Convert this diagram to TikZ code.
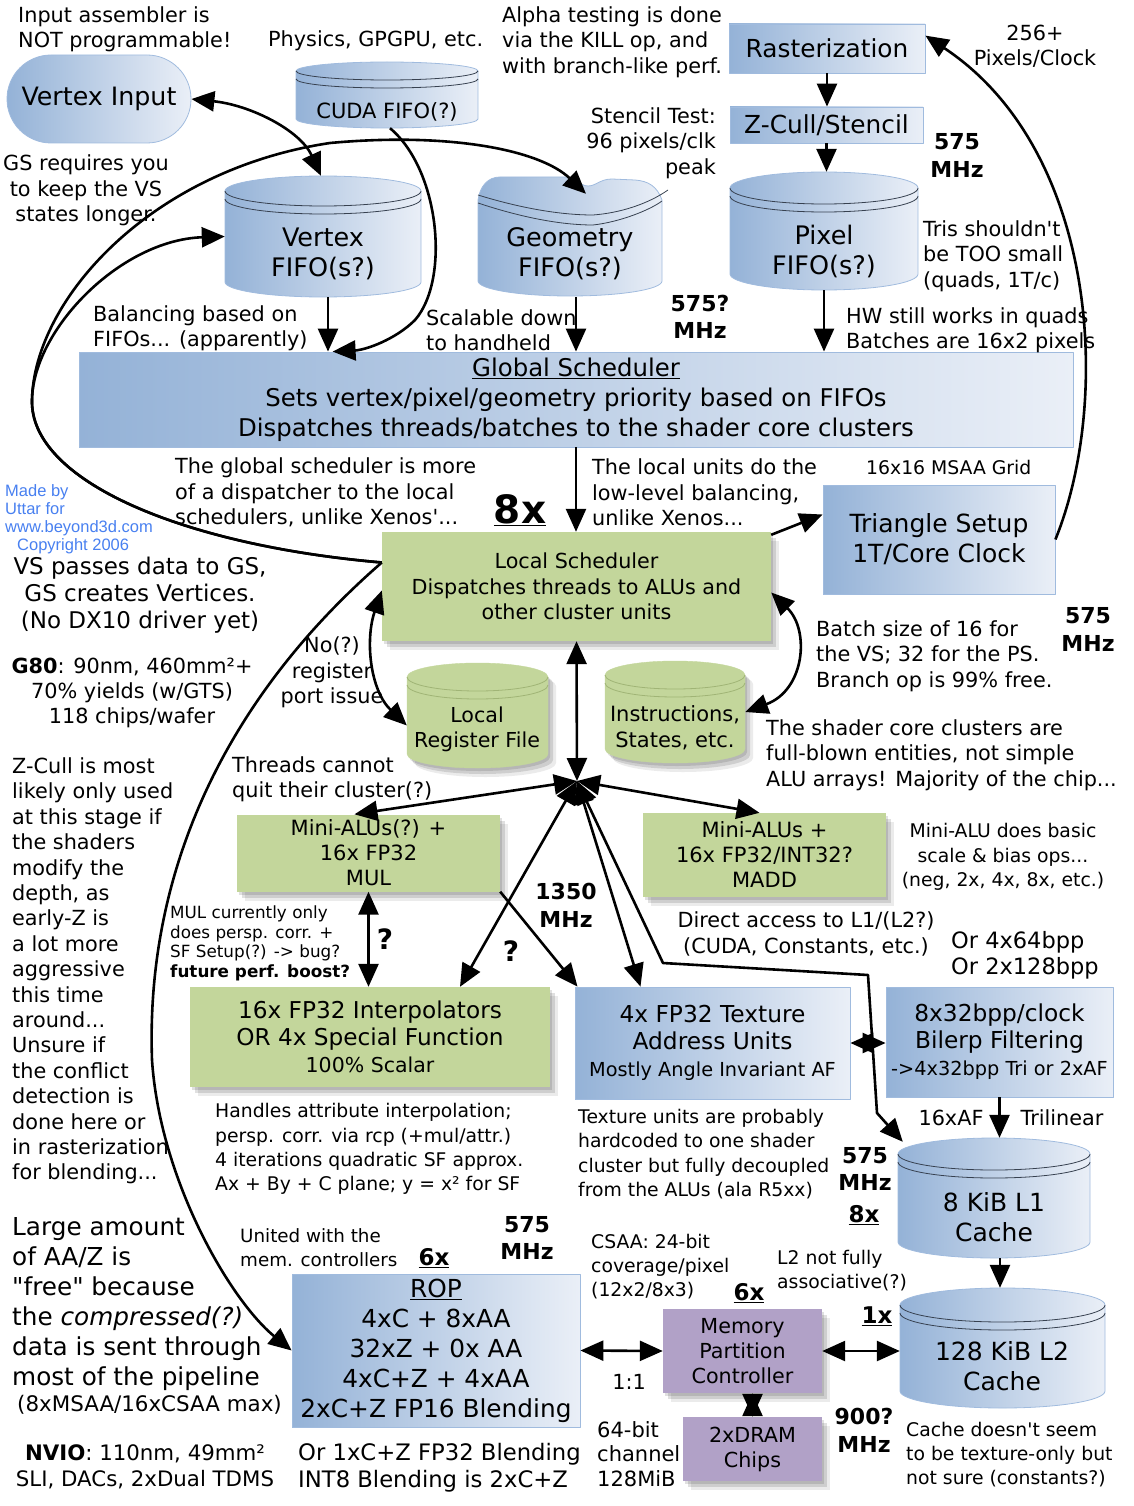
\documentclass[tikz,border=0pt]{standalone}
\usepackage{fontspec}
\setmainfont{DejaVu Sans}[Ligatures=TeXOff]
\newfontfamily\webfont{Liberation Sans}
\usetikzlibrary{arrows.meta,shapes.misc,shadows}

\definecolor{steelblue}{RGB}{148,178,215}
\definecolor{paleblue}{RGB}{234,239,247}
\definecolor{blueedge}{RGB}{160,187,222}
\definecolor{rimgray}{RGB}{55,65,80}
\definecolor{cellgreen}{RGB}{195,214,155}
\definecolor{greenrim}{RGB}{160,180,118}
\definecolor{cellpurple}{RGB}{177,161,199}
\definecolor{webblue}{RGB}{72,128,240}

% cylinder: name, left, top, right, bottom, rim radius, style
\newcommand{\fifo}[7]{%
  \path[#7] (#2,#3+#6) -- (#2,#5-#6)
    arc[start angle=180,end angle=0,x radius=(#4-#2)/2,y radius=#6]
    -- (#4,#3+#6)
    arc[start angle=360,end angle=180,x radius=(#4-#2)/2,y radius=#6] -- cycle;
  \draw[#7 rim] (#2,#3+#6) arc[start angle=180,end angle=0,x radius=(#4-#2)/2,y radius=#6];
  \draw[#7 rim] (#2,#3+#6+8) arc[start angle=180,end angle=0,x radius=(#4-#2)/2,y radius=#6];
  \node (#1) [inner sep=0pt, minimum width=#4-#2, minimum height=#5-#3] at ({(#2+#4)/2},{(#3+#5)/2}) {};}

\begin{document}
\begin{tikzpicture}[x=1pt, y=-1pt, line join=round,
    arr/.style={line width=2.6pt, -{Triangle[length=23pt,width=20pt]}},
    darr/.style={line width=2.6pt, {Triangle[length=23pt,width=20pt]}-{Triangle[length=23pt,width=20pt]}},
    softshadow/.style={drop shadow={shadow xshift=2pt,shadow yshift=-3pt,fill=black,opacity=.12},
      drop shadow={shadow xshift=5pt,shadow yshift=-6pt,fill=black,opacity=.12},
      drop shadow={shadow xshift=8pt,shadow yshift=-9pt,fill=black,opacity=.08}},
    box/.style={rectangle, inner sep=0pt, align=center},
    bluebox/.style={box, draw=blueedge, line width=0.8pt, left color=steelblue, right color=paleblue},
    greenbox/.style={box, fill=cellgreen, softshadow},
    purplebox/.style={box, fill=cellpurple, softshadow},
    bluecyl/.style={draw=blueedge, line width=0.8pt, left color=steelblue, right color=paleblue},
    bluecyl rim/.style={draw=rimgray, line width=0.8pt},
    greencyl/.style={draw=cellgreen, fill=cellgreen, softshadow},
    greencyl rim/.style={draw=greenrim, line width=0.8pt},
    lbl/.style={inner sep=0pt, align=center, font=\fontsize{25.5}{30}\selectfont},
    note/.style={inner sep=0pt, align=left, font=\fontsize{20.8}{25.4}\selectfont},
    snote/.style={inner sep=0pt, align=left, font=\fontsize{18.8}{24.4}\selectfont},
    tnote/.style={inner sep=0pt, align=left, font=\fontsize{16.8}{19.7}\selectfont},
    mhz/.style={inner sep=0pt, align=center, font=\bfseries\fontsize{22}{27.5}\selectfont},
    count/.style={inner sep=0pt, font=\bfseries\fontsize{23}{27}\selectfont}]
  \useasboundingbox (0,0) rectangle (1134,1506);

  % front end
  \node (vin) [bluebox, rounded rectangle, minimum width=184, minimum height=88,
    font=\fontsize{25.3}{30}\selectfont] at (99,99) {Vertex Input};
  \fifo{cuda}{296}{62}{478}{128}{9}{bluecyl}
  \node (cudalbl) [lbl, font=\fontsize{21}{26}\selectfont] at (387,112) {CUDA FIFO(?)};
  \fifo{vfifo}{225}{176}{421}{297}{15}{bluecyl}
  \node (vfifolbl) [lbl] at (323,254) {Vertex\\FIFO(s?)};
  % geometry fifo, dented lid
  \path[bluecyl] (478,200) -- (478,281)
    arc[start angle=180,end angle=0,x radius=92,y radius=15] -- (662,200)
    .. controls (657,186) and (648,181) .. (635,180) -- (612,179)
    .. controls (600,179) and (596,186) .. (588,186)
    .. controls (580,186) and (575,177) .. (565,177) -- (500,177)
    .. controls (488,177) and (480,186) .. (478,200) -- cycle;
  \draw[bluecyl rim] (478,195) .. controls (520,208) and (560,215) .. (593,215)
    .. controls (620,213) and (648,204) .. (668,190);
  \draw[bluecyl rim] (478,203) .. controls (520,217) and (560,225) .. (593,225)
    .. controls (620,222) and (650,210) .. (662,201);
  \node (gfifo) [inner sep=0pt, minimum width=184, minimum height=120] at (570,237) {};
  \node (gfifolbl) [lbl] at (570,254) {Geometry\\FIFO(s?)};
  \node (raster) [bluebox, minimum width=196, minimum height=49,
    font=\fontsize{24.8}{30}\selectfont] at (827,48.5) {Rasterization};
  \node (zcull) [bluebox, minimum width=193, minimum height=36,
    font=\fontsize{24.8}{30}\selectfont] at (826.5,125) {Z-Cull/Stencil};
  \fifo{pfifo}{730}{172}{918}{290}{16}{bluecyl}
  \node (pfifolbl) [lbl] at (824,251) {Pixel\\FIFO(s?)};

  % schedulers
  \node (global) [bluebox, minimum width=994, minimum height=95,
    font=\fontsize{24.4}{30}\selectfont] at (576,399.5)
    {\underline{Global Scheduler}\\Sets vertex/pixel/geometry priority based on FIFOs\\Dispatches threads/batches to the shader core clusters};
  \node (trisetup) [bluebox, minimum width=232, minimum height=109,
    font=\fontsize{25}{30}\selectfont] at (939,539.5) {Triangle Setup\\1T/Core Clock};
  \node (lsched) [greenbox, minimum width=389, minimum height=109,
    font=\fontsize{20.7}{25.5}\selectfont] at (576.5,586.5)
    {Local Scheduler\\Dispatches threads to ALUs and\\other cluster units};
  \fifo{lrf}{407}{663}{548}{768}{14}{greencyl}
  \node (lrflbl) [lbl, font=\fontsize{20.6}{25}\selectfont] at (477,729.5) {Local\\Register File};
  \fifo{instr}{605}{661}{745}{763}{14}{greencyl}
  \node (instrlbl) [lbl, font=\fontsize{21}{26}\selectfont] at (675,728) {Instructions,\\States, etc.};

  % cluster units
  \coordinate (hub) at (577,781);
  \node (mul) [greenbox, minimum width=263, minimum height=77,
    font=\fontsize{21}{25}\selectfont] at (368.5,853) {Mini-ALUs(?) +\\16x FP32\\MUL};
  \node (madd) [greenbox, minimum width=243, minimum height=84,
    font=\fontsize{21}{25}\selectfont] at (764.5,855) {Mini-ALUs +\\16x FP32/INT32?\\MADD};
  \node (interp) [greenbox, minimum width=360, minimum height=100,
    font=\fontsize{23.2}{27}\selectfont] at (370,1037)
    {16x FP32 Interpolators\\OR 4x Special Function\\{\fontsize{20.5}{25}\selectfont 100\% Scalar}};
  \node (texaddr) [bluebox, minimum width=275, minimum height=112,
    font=\fontsize{23.3}{27}\selectfont] at (712.5,1043)
    {4x FP32 Texture\\Address Units\\{\fontsize{19.3}{25}\selectfont Mostly Angle Invariant AF}};
  \node (bilerp) [bluebox, minimum width=227, minimum height=110,
    font=\fontsize{23.3}{27}\selectfont] at (999.5,1042)
    {8x32bpp/clock\\Bilerp Filtering\\{\fontsize{19.3}{25}\selectfont ->4x32bpp Tri or 2xAF}};
  \fifo{l1}{898}{1138}{1090}{1258}{16}{bluecyl}
  \node (l1lbl) [lbl, font=\fontsize{25}{30}\selectfont] at (994,1217) {8 KiB L1\\Cache};

  % back end
  \node (rop) [bluebox, minimum width=288, minimum height=153,
    font=\fontsize{24.8}{30}\selectfont] at (436,1350.5)
    {\underline{ROP}\\4xC + 8xAA\\32xZ + 0x AA\\4xC+Z + 4xAA\\2xC+Z FP16 Blending};
  \node (mpc) [purplebox, minimum width=159, minimum height=84,
    font=\fontsize{20.7}{25}\selectfont] at (742.5,1351) {Memory\\Partition\\Controller};
  \node (dram) [purplebox, minimum width=139, minimum height=64,
    font=\fontsize{20.7}{25}\selectfont] at (752.5,1449) {2xDRAM\\Chips};
  \fifo{l2}{900}{1288}{1105}{1408}{17}{bluecyl}
  \node (l2lbl) [lbl, font=\fontsize{25}{30}\selectfont] at (1002,1366) {128 KiB L2\\Cache};

  % connectors
  \draw[darr] (vin.east) .. controls (250,105) and (300,130) .. ([xshift=-2pt]vfifo.north);
  \draw[arr] ([yshift=24pt]lsched.west) .. controls (180,545) and (30,480) .. (32,400)
    .. controls (34,300) and (150,170) .. (330,143)
    .. controls (450,132) and (540,150) .. ([xshift=16pt,yshift=-17pt]gfifo.north);
  \draw[arr] ([yshift=24pt]lsched.west) .. controls (180,545) and (30,480) .. (32,400)
    .. controls (33,330) and (120,240) .. (vfifo.west);
  \draw[arr] ([yshift=24pt]lsched.west) .. controls (235,690) and (145,860) .. (152,1060)
    .. controls (160,1180) and (230,1300) .. (rop.west);
  \draw[arr] ([xshift=3pt]cuda.south) .. controls (440,170) and (450,280) .. (415,320)
    .. controls (395,340) and (365,350) .. ([xshift=254pt]global.north west);
  \draw[arr] (raster.south) -- (raster.south |- zcull.north);
  \draw[arr] (zcull.south) -- (zcull.south |- pfifo.north);
  \draw[arr] ([xshift=5pt]vfifo.south) -- ([xshift=5pt]vfifo.south |- global.north);
  \draw[arr] ([xshift=6pt]gfifo.south) -- ([xshift=6pt]gfifo.south |- global.north);
  \draw[arr] (pfifo.south) -- (pfifo.south |- global.north);
  \draw[arr] (global.south) -- (global.south |- lsched.north);
  \draw[arr] ([yshift=-3pt]lsched.north east) -- ([yshift=25pt]trisetup.west);
  \draw[arr] (trisetup.east) .. controls (1112,400) and (1098,150) .. ([yshift=-12pt]raster.north east);
  \draw[darr] ([yshift=-4pt]lsched.west) .. controls (365,640) and (370,690) .. ([yshift=-10pt]lrf.west);
  \draw[darr] ([yshift=-6pt]lsched.east) .. controls (810,630) and (805,690) .. (instr.east);
  \draw[darr] (lsched.south) -- (hub);
  \draw[darr] (hub) -- ([xshift=-14pt]mul.north);
  \draw[darr] (hub) -- ([xshift=-5pt]madd.north);
  \draw[darr] (hub) -- ([xshift=90pt]interp.north);
  \draw[darr] (hub) -- ([xshift=-72pt]texaddr.north);
  \draw[arr] (mul.south east) -- ([xshift=-135pt]texaddr.north);
  \draw[darr] (mul.south) -- (mul.south |- interp.north);
  \draw[darr] (hub) -- (663,963) -- (868,975) -- (877,1113) -- ([xshift=5pt,yshift=-4pt]l1.north west);
  \draw[darr] (texaddr.east) -- (texaddr.east -| bilerp.west);
  \draw[arr] (bilerp.south) -- (bilerp.south |- l1.north);
  \draw[arr] ([xshift=6pt]l1.south) -- ([xshift=6pt]l1.south |- l2.north);
  \draw[darr] (rop.east) -- (mpc.west);
  \draw[darr] (mpc.east) -- (mpc.east -| l2.west);
  \draw[darr] (dram.north |- mpc.south) -- (dram.north);

  % notes
  \node (inasm) [note, anchor=west] at (18,29) {Input assembler is\\NOT programmable!};
  \node (physics) [note, anchor=west] at (268,41) {Physics, GPGPU, etc.};
  \node (alpha) [note, anchor=west] at (502,42) {Alpha testing is done\\via the KILL op, and\\with branch-like perf.};
  \node (pixclk) [note, align=center] at (1035,46) {256+\\Pixels/Clock};
  \node (stencil) [note, align=right, anchor=east] at (716,143) {Stencil Test:\\96 pixels/clk\\peak};
  \node (mhzrast) [mhz] at (957,155.5) {575\\MHz};
  \node (tris) [note, anchor=west] at (923,256) {Tris shouldn't\\be TOO small\\(quads, 1T/c)};
  \node (gsnote) [note, align=center] at (86,190.5) {GS requires you\\to keep the VS\\states longer.};
  \node (balance) [note, anchor=west] at (93,328) {Balancing based on\\FIFOs... (apparently)};
  \node (scalable) [note, anchor=west] at (426,330) {Scalable down\\to handheld};
  \node (mhzglob) [mhz] at (700,317) {575?\\MHz};
  \node (hwquads) [note, anchor=west] at (846,330.5) {HW still works in quads\\Batches are 16x2 pixels};
  \node (globnote) [note, anchor=west] at (175,492.5) {The global scheduler is more\\of a dispatcher to the local\\schedulers, unlike Xenos'...};
  \node (localnote) [note, anchor=west] at (592,492.5) {The local units do the\\low-level balancing,\\unlike Xenos...};
  \node (msaagrid) [snote, anchor=west] at (866,467) {16x16 MSAA Grid};
  \node (eightx) [inner sep=0pt, font=\bfseries\fontsize{39}{44}\selectfont] at (520,510) {\underline{8x}};
  \node (madeby) [inner sep=0pt, align=left, text=webblue, font=\webfont\fontsize{16.5}{18}\selectfont, anchor=west] at (5,519)
    {Made by\\Uttar for\\www.beyond3d.com\\\hspace*{12pt}Copyright 2006};
  \node (vsgs) [note, align=center, font=\fontsize{23}{27}\selectfont] at (140,595) {VS passes data to GS,\\GS creates Vertices.\\(No DX10 driver yet)};
  \node (batch) [note, anchor=west] at (816,656) {Batch size of 16 for\\the VS; 32 for the PS.\\Branch op is 99\% free.};
  \node (mhzsetup) [mhz] at (1088,629.5) {575\\MHz};
  \node (g80) [note, align=center] at (132,693) {\textbf{G80}: 90nm, 460mm²+\\70\% yields (w/GTS)\\118 chips/wafer};
  \node (noreg) [note, align=center] at (332,672.5) {No(?)\\register\\port issue};
  \node (shader) [note, anchor=west] at (766,755) {The shader core clusters are\\full-blown entities, not simple\\ALU arrays! Majority of the chip...};
  \node (zcullnote) [note, anchor=west] at (12,971) {Z-Cull is most\\likely only used\\at this stage if\\the shaders\\modify the\\depth, as\\early-Z is\\a lot more\\aggressive\\this time\\around...\\Unsure if\\the conflict\\detection is\\done here or\\in rasterization\\for blending...};
  \node (threads) [note, anchor=west] at (232,779) {Threads cannot\\quit their cluster(?)};
  \node (minialu) [snote, align=center] at (1003,857) {Mini-ALU does basic\\scale \& bias ops...\\(neg, 2x, 4x, 8x, etc.)};
  \node (mhzalu) [mhz] at (566,905.5) {1350\\MHz};
  \node (mulnote) [tnote, anchor=west] at (170,943.5) {MUL currently only\\does persp. corr. +\\SF Setup(?) -> bug?\\\textbf{future perf. boost?}};
  \node (qmul) [inner sep=0pt, font=\bfseries\fontsize{28}{30}\selectfont] at (385,939) {?};
  \node (qtex) [inner sep=0pt, font=\bfseries\fontsize{28}{30}\selectfont] at (511,951) {?};
  \node (direct) [note, align=center] at (806,934) {Direct access to L1/(L2?)\\(CUDA, Constants, etc.)};
  \node (orbpp) [note, anchor=west, font=\fontsize{22.5}{26}\selectfont] at (951,955.5) {Or 4x64bpp\\Or 2x128bpp};
  \node (handles) [snote, anchor=west] at (215,1149) {Handles attribute interpolation;\\persp. corr. via rcp (+mul/attr.)\\4 iterations quadratic SF approx.\\Ax + By + C plane; y = x² for SF};
  \node (texunits) [snote, anchor=west] at (578,1154) {Texture units are probably\\hardcoded to one shader\\cluster but fully decoupled\\from the ALUs (ala R5xx)};
  \node (af16) [note] at (951,1117.5) {16xAF};
  \node (trilin) [note] at (1062,1117.5) {Trilinear};
  \node (mhztex) [mhz] at (865,1169) {575\\MHz};
  \node (eightxl1) [count] at (864,1215) {\underline{8x}};
  \node (largeaa) [note, anchor=west, font=\fontsize{24.7}{30}\selectfont] at (12,1304) {Large amount\\of AA/Z is\\"free" because\\the \textit{compressed(?)}\\data is sent through\\most of the pipeline};
  \node (msaamax) [note, anchor=west, font=\fontsize{21.4}{26}\selectfont] at (17,1404.5) {(8xMSAA/16xCSAA max)};
  \node (united) [note, anchor=west, font=\fontsize{18.3}{24}\selectfont] at (240,1247.5) {United with the\\mem. controllers};
  \node (sixrop) [count] at (434,1258) {\underline{6x}};
  \node (mhzrop) [mhz] at (527,1238) {575\\MHz};
  \node (csaa) [snote, anchor=west] at (591,1266.5) {CSAA: 24-bit\\coverage/pixel\\(12x2/8x3)};
  \node (sixmpc) [count] at (749,1293) {\underline{6x}};
  \node (l2not) [snote, anchor=west] at (777,1270.5) {L2 not fully\\associative(?)};
  \node (onex) [count] at (877,1316) {\underline{1x}};
  \node (ratio) [note] at (629,1381.5) {1:1};
  \node (chan) [note, anchor=west, font=\fontsize{21}{24.5}\selectfont] at (597,1454) {64-bit\\channel\\128MiB};
  \node (mhzmem) [mhz] at (864,1430.5) {900?\\MHz};
  \node (cachenote) [snote, anchor=west] at (906,1454.5) {Cache doesn't seem\\to be texture-only but\\not sure (constants?)};
  \node (nvio) [note, align=center, font=\fontsize{21.3}{26}\selectfont] at (145,1466.5) {\textbf{NVIO}: 110nm, 49mm²\\SLI, DACs, 2xDual TDMS};
  \node (or1x) [note, anchor=west, font=\fontsize{22.7}{27}\selectfont] at (298,1468) {Or 1xC+Z FP32 Blending\\INT8 Blending is 2xC+Z};
\end{tikzpicture}
\end{document}
